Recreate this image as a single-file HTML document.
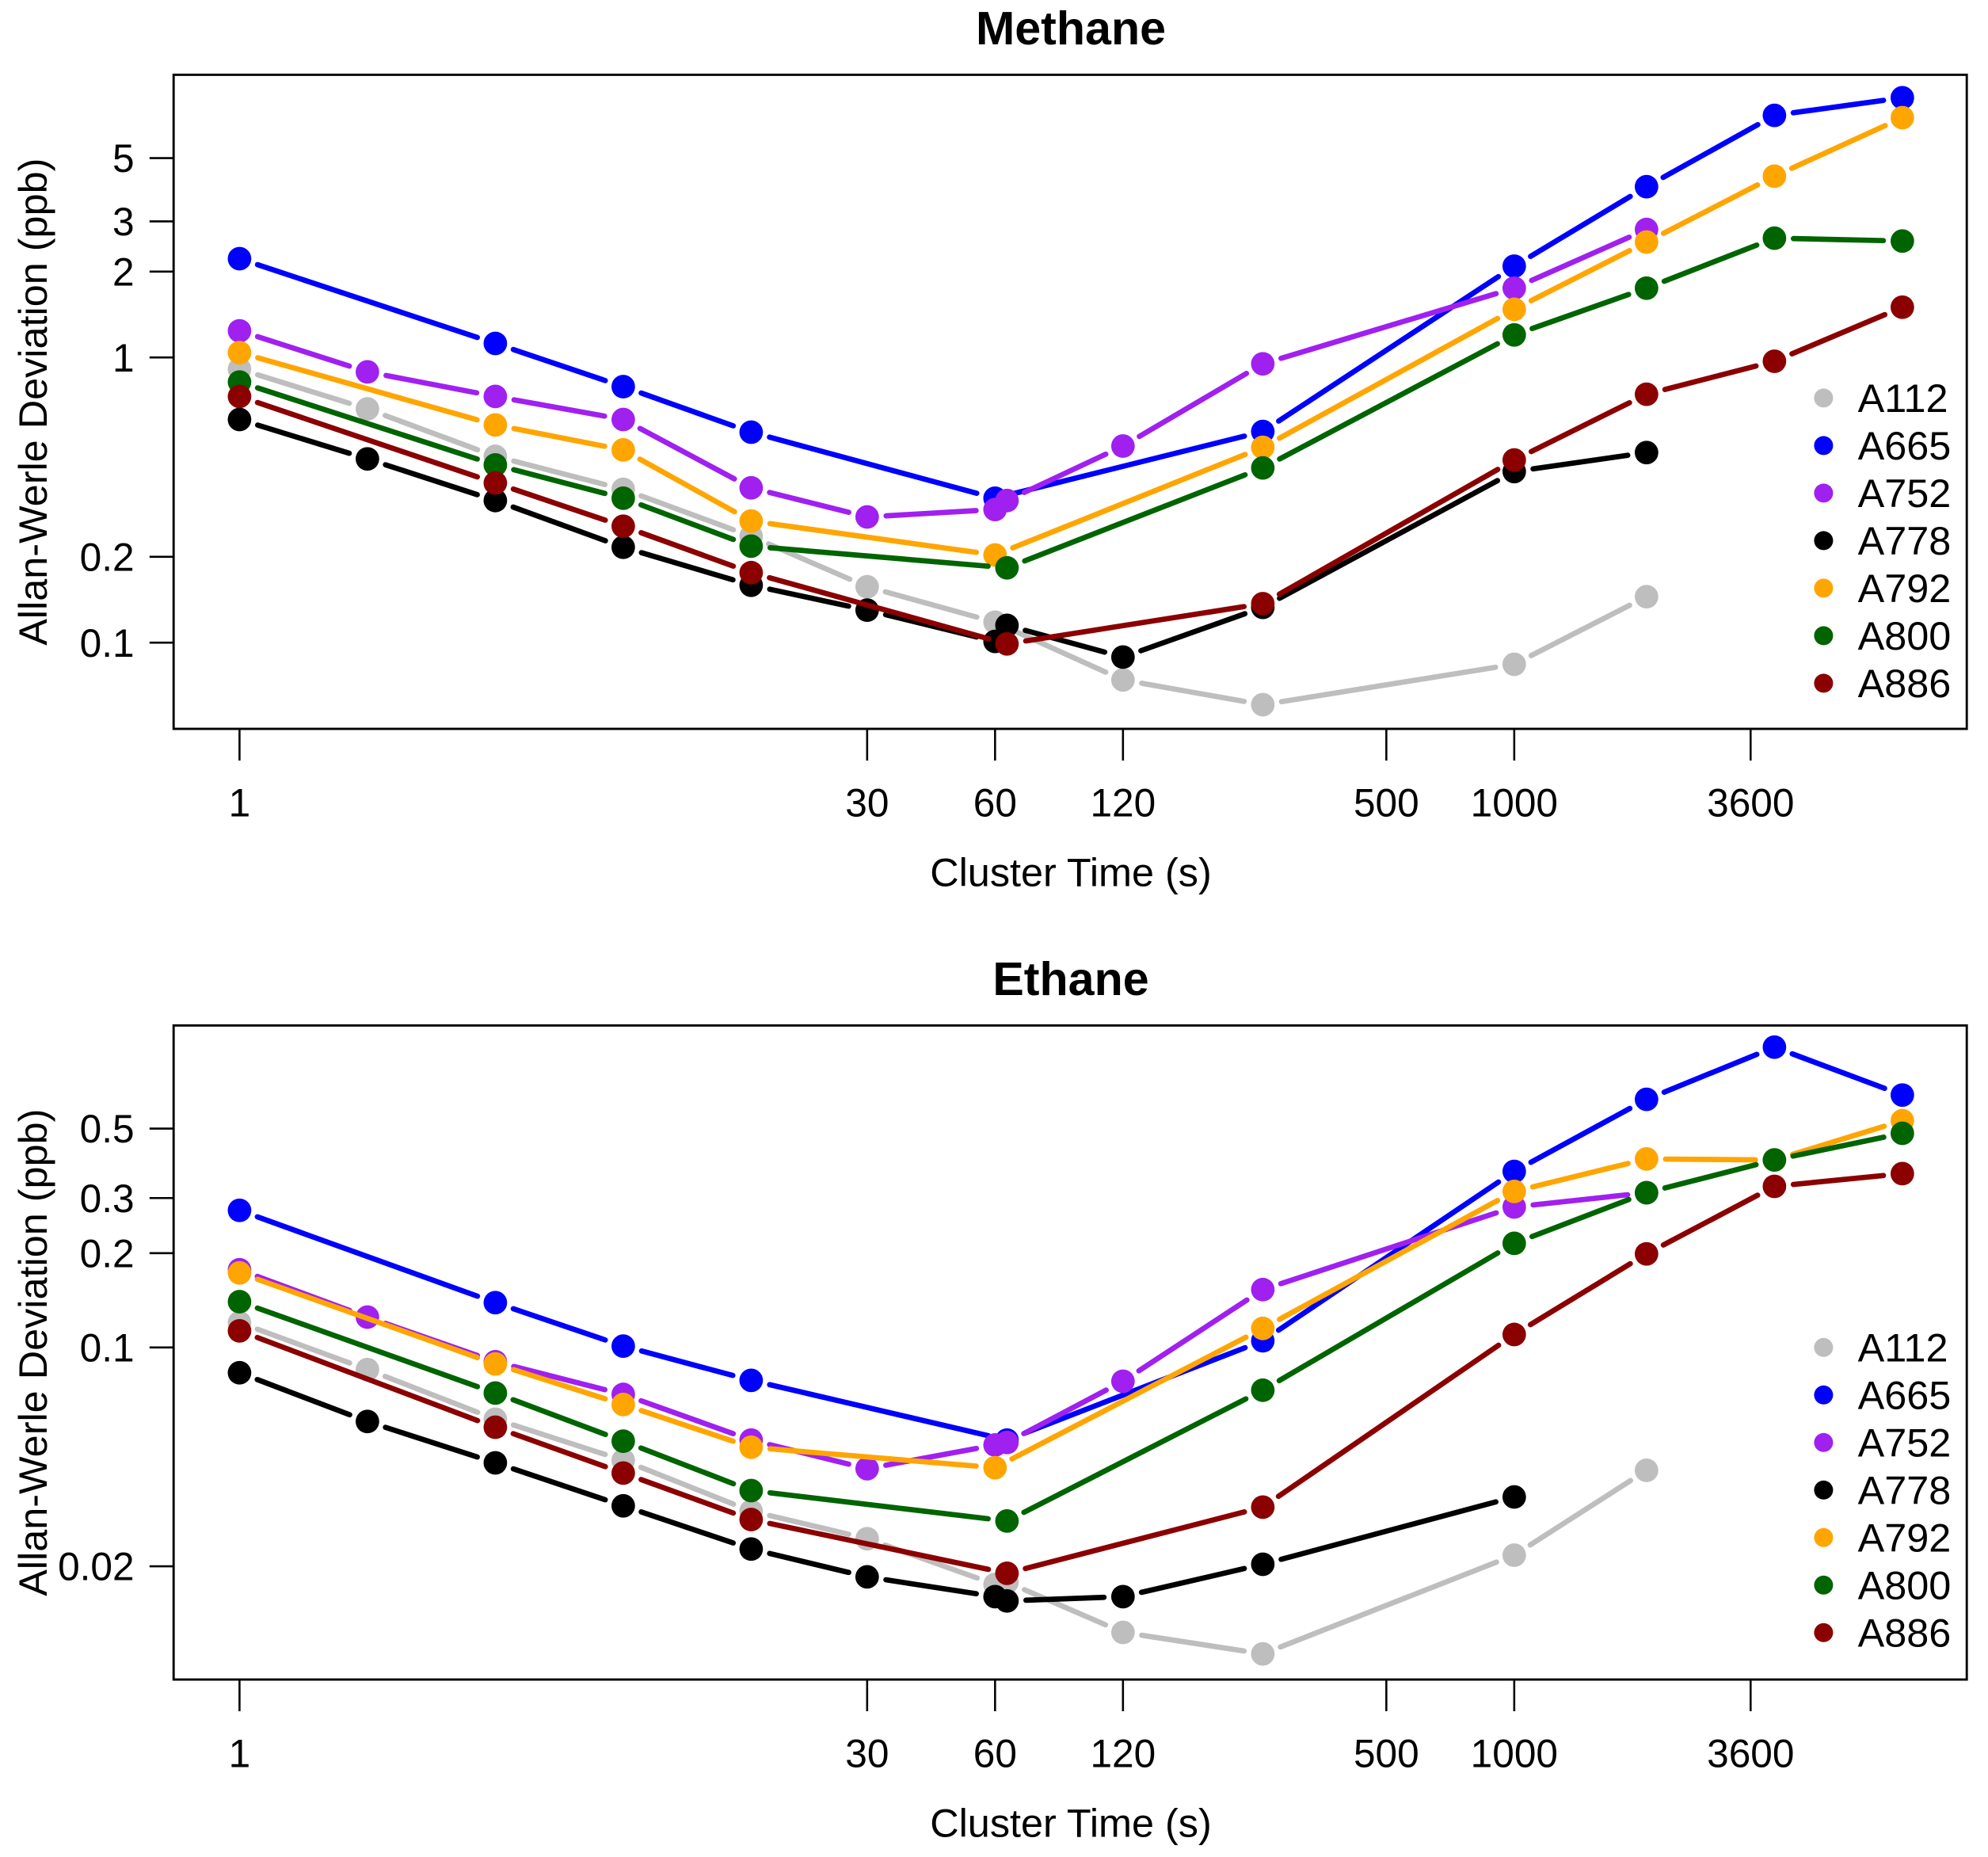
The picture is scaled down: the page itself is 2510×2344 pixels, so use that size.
<!DOCTYPE html>
<html><head><meta charset="utf-8"><style>
html,body{margin:0;padding:0;background:#fff}
svg{display:block;font-family:"Liberation Sans",Arial,sans-serif}
</style></head><body>
<svg id="chart" xmlns="http://www.w3.org/2000/svg" width="2510" height="2344" viewBox="0 0 1568.75 1465"></svg>
<script>
const seriesNames = ["A112","A665","A752","A778","A792","A800","A886"];
const seriesColors = ["#bebebe","#0000ff","#a020f0","#000000","#ffa500","#006400","#8b0000"];
const xTickValues = [1,30,60,120,500,1000,3600];
const xTickLabels = ["1","30","60","120","500","1000","3600"];

const methaneX = {
  A112:[1,2,4,8,16,30,60,120,256,1000,2048],
  A665:[1,4,8,16,60,256,1000,2048,4096,8192],
  A752:[1,2,4,8,16,30,60,64,120,256,1000,2048],
  A778:[1,2,4,8,16,30,60,64,120,256,1000,2048],
  A792:[1,4,8,16,60,256,1000,2048,4096,8192],
  A800:[1,4,8,16,64,256,1000,2048,4096,8192],
  A886:[1,4,8,16,64,256,1000,2048,4096,8192]
};
const methaneY = {
  A112:[0.91,0.66,0.45,0.345,0.236,0.157,0.118,0.074,0.0606,0.084,0.145],
  A665:[2.22,1.12,0.79,0.547,0.321,0.55,2.09,3.97,7.06,8.14],
  A752:[1.24,0.89,0.73,0.606,0.349,0.276,0.293,0.315,0.489,0.95,1.75,2.81],
  A778:[0.606,0.441,0.315,0.216,0.159,0.13,0.101,0.115,0.089,0.133,0.398,0.464],
  A792:[1.04,0.58,0.474,0.267,0.203,0.484,1.475,2.54,4.32,6.93],
  A800:[0.82,0.42,0.321,0.218,0.183,0.41,1.2,1.75,2.62,2.56],
  A886:[0.73,0.363,0.256,0.176,0.099,0.137,0.437,0.743,0.97,1.5]
};
const methaneYTicks = [0.1,0.2,1,2,3,5];
const methaneYLabels = ["0.1","0.2","1","2","3","5"];

const ethaneX = {
  A112:[1,2,4,8,16,30,60,64,120,256,1000,2048],
  A665:[1,4,8,16,64,256,1000,2048,4096,8192],
  A752:[1,2,4,8,16,30,60,64,120,256,1000,2048],
  A778:[1,2,4,8,16,30,60,64,120,256,1000],
  A792:[1,4,8,16,60,256,1000,2048,4096,8192],
  A800:[1,4,8,16,64,256,1000,2048,4096,8192],
  A886:[1,4,8,16,64,256,1000,2048,4096,8192]
};
const ethaneY = {
  A112:[0.12,0.085,0.059,0.0436,0.030,0.0245,0.0175,0.0178,0.0123,0.0105,0.0217,0.0405],
  A665:[0.274,0.139,0.101,0.0785,0.0506,0.105,0.365,0.62,0.91,0.64],
  A752:[0.177,0.125,0.090,0.0708,0.0506,0.041,0.0488,0.0497,0.078,0.153,0.281,0.312],
  A778:[0.083,0.058,0.0428,0.0312,0.0227,0.0185,0.016,0.0155,0.016,0.0203,0.0333],
  A792:[0.173,0.0886,0.0657,0.048,0.0413,0.115,0.315,0.4,0.397,0.53],
  A800:[0.14,0.0715,0.0502,0.0349,0.0279,0.073,0.215,0.312,0.397,0.483],
  A886:[0.113,0.0556,0.0397,0.0282,0.019,0.0309,0.11,0.199,0.327,0.359]
};
const ethaneYTicks = [0.02,0.1,0.2,0.3,0.5];
const ethaneYLabels = ["0.02","0.1","0.2","0.3","0.5"];

const NS="http://www.w3.org/2000/svg";
const svg=document.getElementById('chart');
function mk(tag,attrs,parent,text){const e=document.createElementNS(NS,tag);for(const k in attrs)e.setAttribute(k,attrs[k]);if(text!==undefined)e.textContent=text;(parent||svg).appendChild(e);return e;}

function panel(cfg){
  const g=mk('g',{});
  
  
  const L=137,R=1552,T=cfg.top,B=cfg.top+516;
  const xs=v=>189+335.3*Math.log10(v);
  const ys=v=>cfg.y0-cfg.dec*Math.log10(v/cfg.v0);
  const title=mk('text',{x:845,y:T-24,'text-anchor':'middle','font-size':37,'font-weight':'bold'},g,cfg.title);
  
  
  const xa=mk('g',{},g);
  
  
  xTickValues.forEach((v,i)=>{
    const x=xs(v);
    mk('line',{x1:x,x2:x,y1:B,y2:B+25,stroke:'#000','stroke-width':1.6},xa);
    const t=mk('text',{x:x,y:B+69,'text-anchor':'middle','font-size':31},xa,xTickLabels[i]);
    
    
  });
  const xt=mk('text',{x:845,y:B+124,'text-anchor':'middle','font-size':31.5},g,'Cluster Time (s)');
  
  
  const ya=mk('g',{},g);
  
  
  cfg.yt.forEach((v,i)=>{
    const y=ys(v);
    mk('line',{x1:L-19,x2:L,y1:y,y2:y,stroke:'#000','stroke-width':1.6},ya);
    const t=mk('text',{x:106,y:y+11,'text-anchor':'end','font-size':31},ya,cfg.yl[i]);
    
    
  });
  const cy=(T+B)/2;
  const yt=mk('text',{x:37,y:cy,'text-anchor':'middle','font-size':31.5,transform:`rotate(-90 37 ${cy})`},g,'Allan-Werle Deviation (ppb)');
  
  
  seriesNames.forEach((n,si)=>{
    const sg=mk('g',{},g);
    
    
    const X=cfg.X[n],Y=cfg.Y[n],col=seriesColors[si];
    const pts=X.map((x,i)=>[xs(x),ys(Y[i])]);
    for(let i=0;i<pts.length-1;i++){
      const [x1,y1]=pts[i],[x2,y2]=pts[i+1];
      const d=Math.hypot(x2-x1,y2-y1),gap=15;
      if(d<=2*gap)continue;
      const ux=(x2-x1)/d,uy=(y2-y1)/d;
      const ln=mk('line',{x1:x1+ux*gap,y1:y1+uy*gap,x2:x2-ux*gap,y2:y2-uy*gap,stroke:col,'stroke-width':4.2,'stroke-linecap':'round'},sg);
      
      
    }
    pts.forEach(p=>{
      const c=mk('circle',{cx:p[0],cy:p[1],r:9.3,fill:col},sg);
      
      
    });
  });
  mk('rect',{x:L,y:T,width:R-L,height:B-T,fill:'none',stroke:'#000','stroke-width':1.8},g);
  const lg=mk('g',{},g);
  
  
  seriesNames.forEach((n,i)=>{
    const y=cfg.legTop+i*37.5;
    const e=mk('g',{},lg);
    
    
    mk('circle',{cx:1439,cy:y,r:7.5,fill:seriesColors[i]},e);
    mk('text',{x:1466,y:y+11,'font-size':31.5},e,n);
  });
}
panel({id:'methane',title:'Methane',top:59,y0:282,v0:1,dec:225,yt:methaneYTicks,yl:methaneYLabels,X:methaneX,Y:methaneY,legTop:314});
panel({id:'ethane',title:'Ethane',top:809,y0:1063,v0:0.1,dec:247,yt:ethaneYTicks,yl:ethaneYLabels,X:ethaneX,Y:ethaneY,legTop:1063});
</script>
</body></html>
